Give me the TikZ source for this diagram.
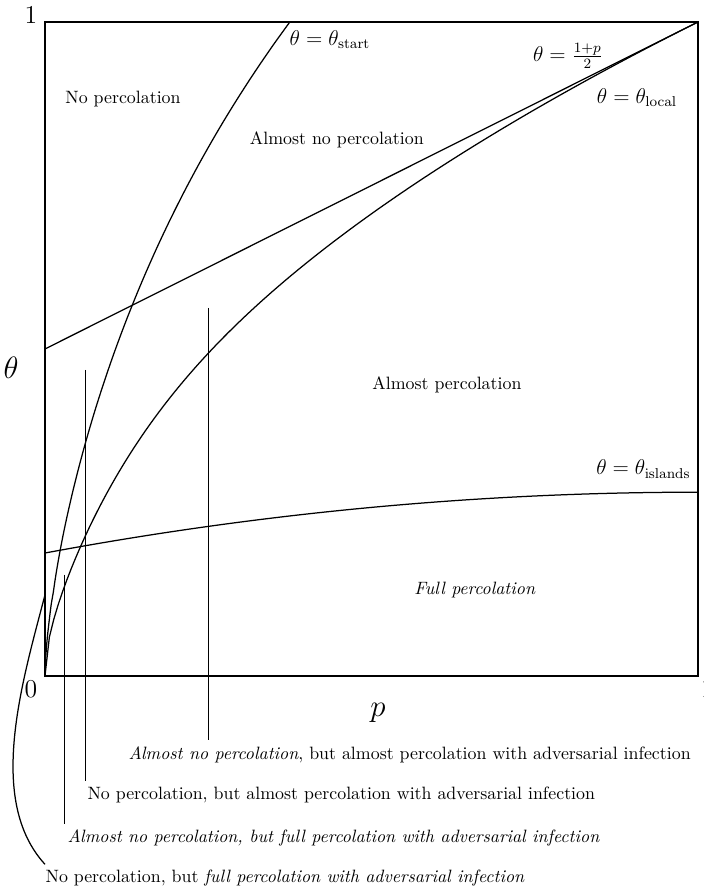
\documentclass[tikz,border=0pt]{standalone}
\begin{document}
\begin{tikzpicture}[x=12.85cm,y=12.87cm,line width=0.7pt,
    caselabel/.style={anchor=north west,inner xsep=0pt,inner ysep=3pt},
    curvelabel/.style={font=\large}]
    \useasboundingbox (-0.0689,-0.3242) rectangle (1.0092,1.0336);
    \coordinate (O) at (0,0);
    \coordinate (I) at (1,1);
    \draw (O) rectangle (I);
    \node (one) at (-0.0214,1.0107) {\Large $1$};
    \node (zero) at (-0.0214,-0.0199) {\Large $0$};
    \node (pone) at (1.0145,-0.0199) {\Large $1$};
    \node (theta) at (-0.052,0.471) {\LARGE $\theta$};
    \node (p) at (0.51,-0.0566) {\LARGE $p$};
    % the four curves
    \draw (O) -- plot[domain=0.01:1,samples=60,smooth] ({0.375*exp((1.62+0.35*\x)*ln(\x))},\x);
    \draw (0,0.5) -- (I);
    \draw plot[domain=0:1,samples=150] (\x,{sqrt(\x)*(1-0.3*exp(-\x/0.08))});
    \draw (0,0.188) .. controls (0.3333,0.250) and (0.6667,0.281) .. (1,0.281);
    \node[curvelabel] (start) at (0.4365,0.9725) {$\theta=\theta_{\mathrm{start}}$};
    \node[curvelabel] (half) at (0.801,0.948) {$\theta=\frac{1+p}{2}$};
    \node[curvelabel] (local) at (0.9066,0.884) {$\theta=\theta_{\mathrm{local}}$};
    \node[curvelabel] (islands) at (0.9165,0.3165) {$\theta=\theta_{\mathrm{islands}}$};
    % regions
    \node (nopc) at (0.1195,0.882) {No percolation};
    \node (almostno) at (0.447,0.820) {Almost no percolation};
    \node (almostpc) at (0.6156,0.445) {Almost percolation};
    \node (fullpc) at (0.6585,0.1315) {\textit{Full percolation}};
    % special cases below the plot
    \node[caselabel] (case1) at (0.127,-0.0986) {\textit{Almost no percolation}, but almost percolation with adversarial infection};
    \node[caselabel] (case2) at (0.0643,-0.1606) {No percolation, but almost percolation with adversarial infection};
    \node[caselabel] (case3) at (0.0337,-0.2263) {\textit{Almost no percolation, but full percolation with adversarial infection}};
    \node[caselabel] (case4) at (0,-0.288) {No percolation, but \textit{full percolation with adversarial infection}};
    \coordinate (v1) at (0.25,0.563);
    \coordinate (v2) at (0.0625,0.468);
    \coordinate (v3) at (0.03,0.155);
    \coordinate (edge) at (0,0.124);
    \draw (v1) -- (v1 |- case1.north);
    \draw (v2) -- (v2 |- case2.north);
    \draw (v3) -- (v3 |- case3.north);
    \draw (edge) .. controls (-0.035,-0.01) and (-0.09,-0.19) .. (case4.north west);
\end{tikzpicture}
\end{document}
